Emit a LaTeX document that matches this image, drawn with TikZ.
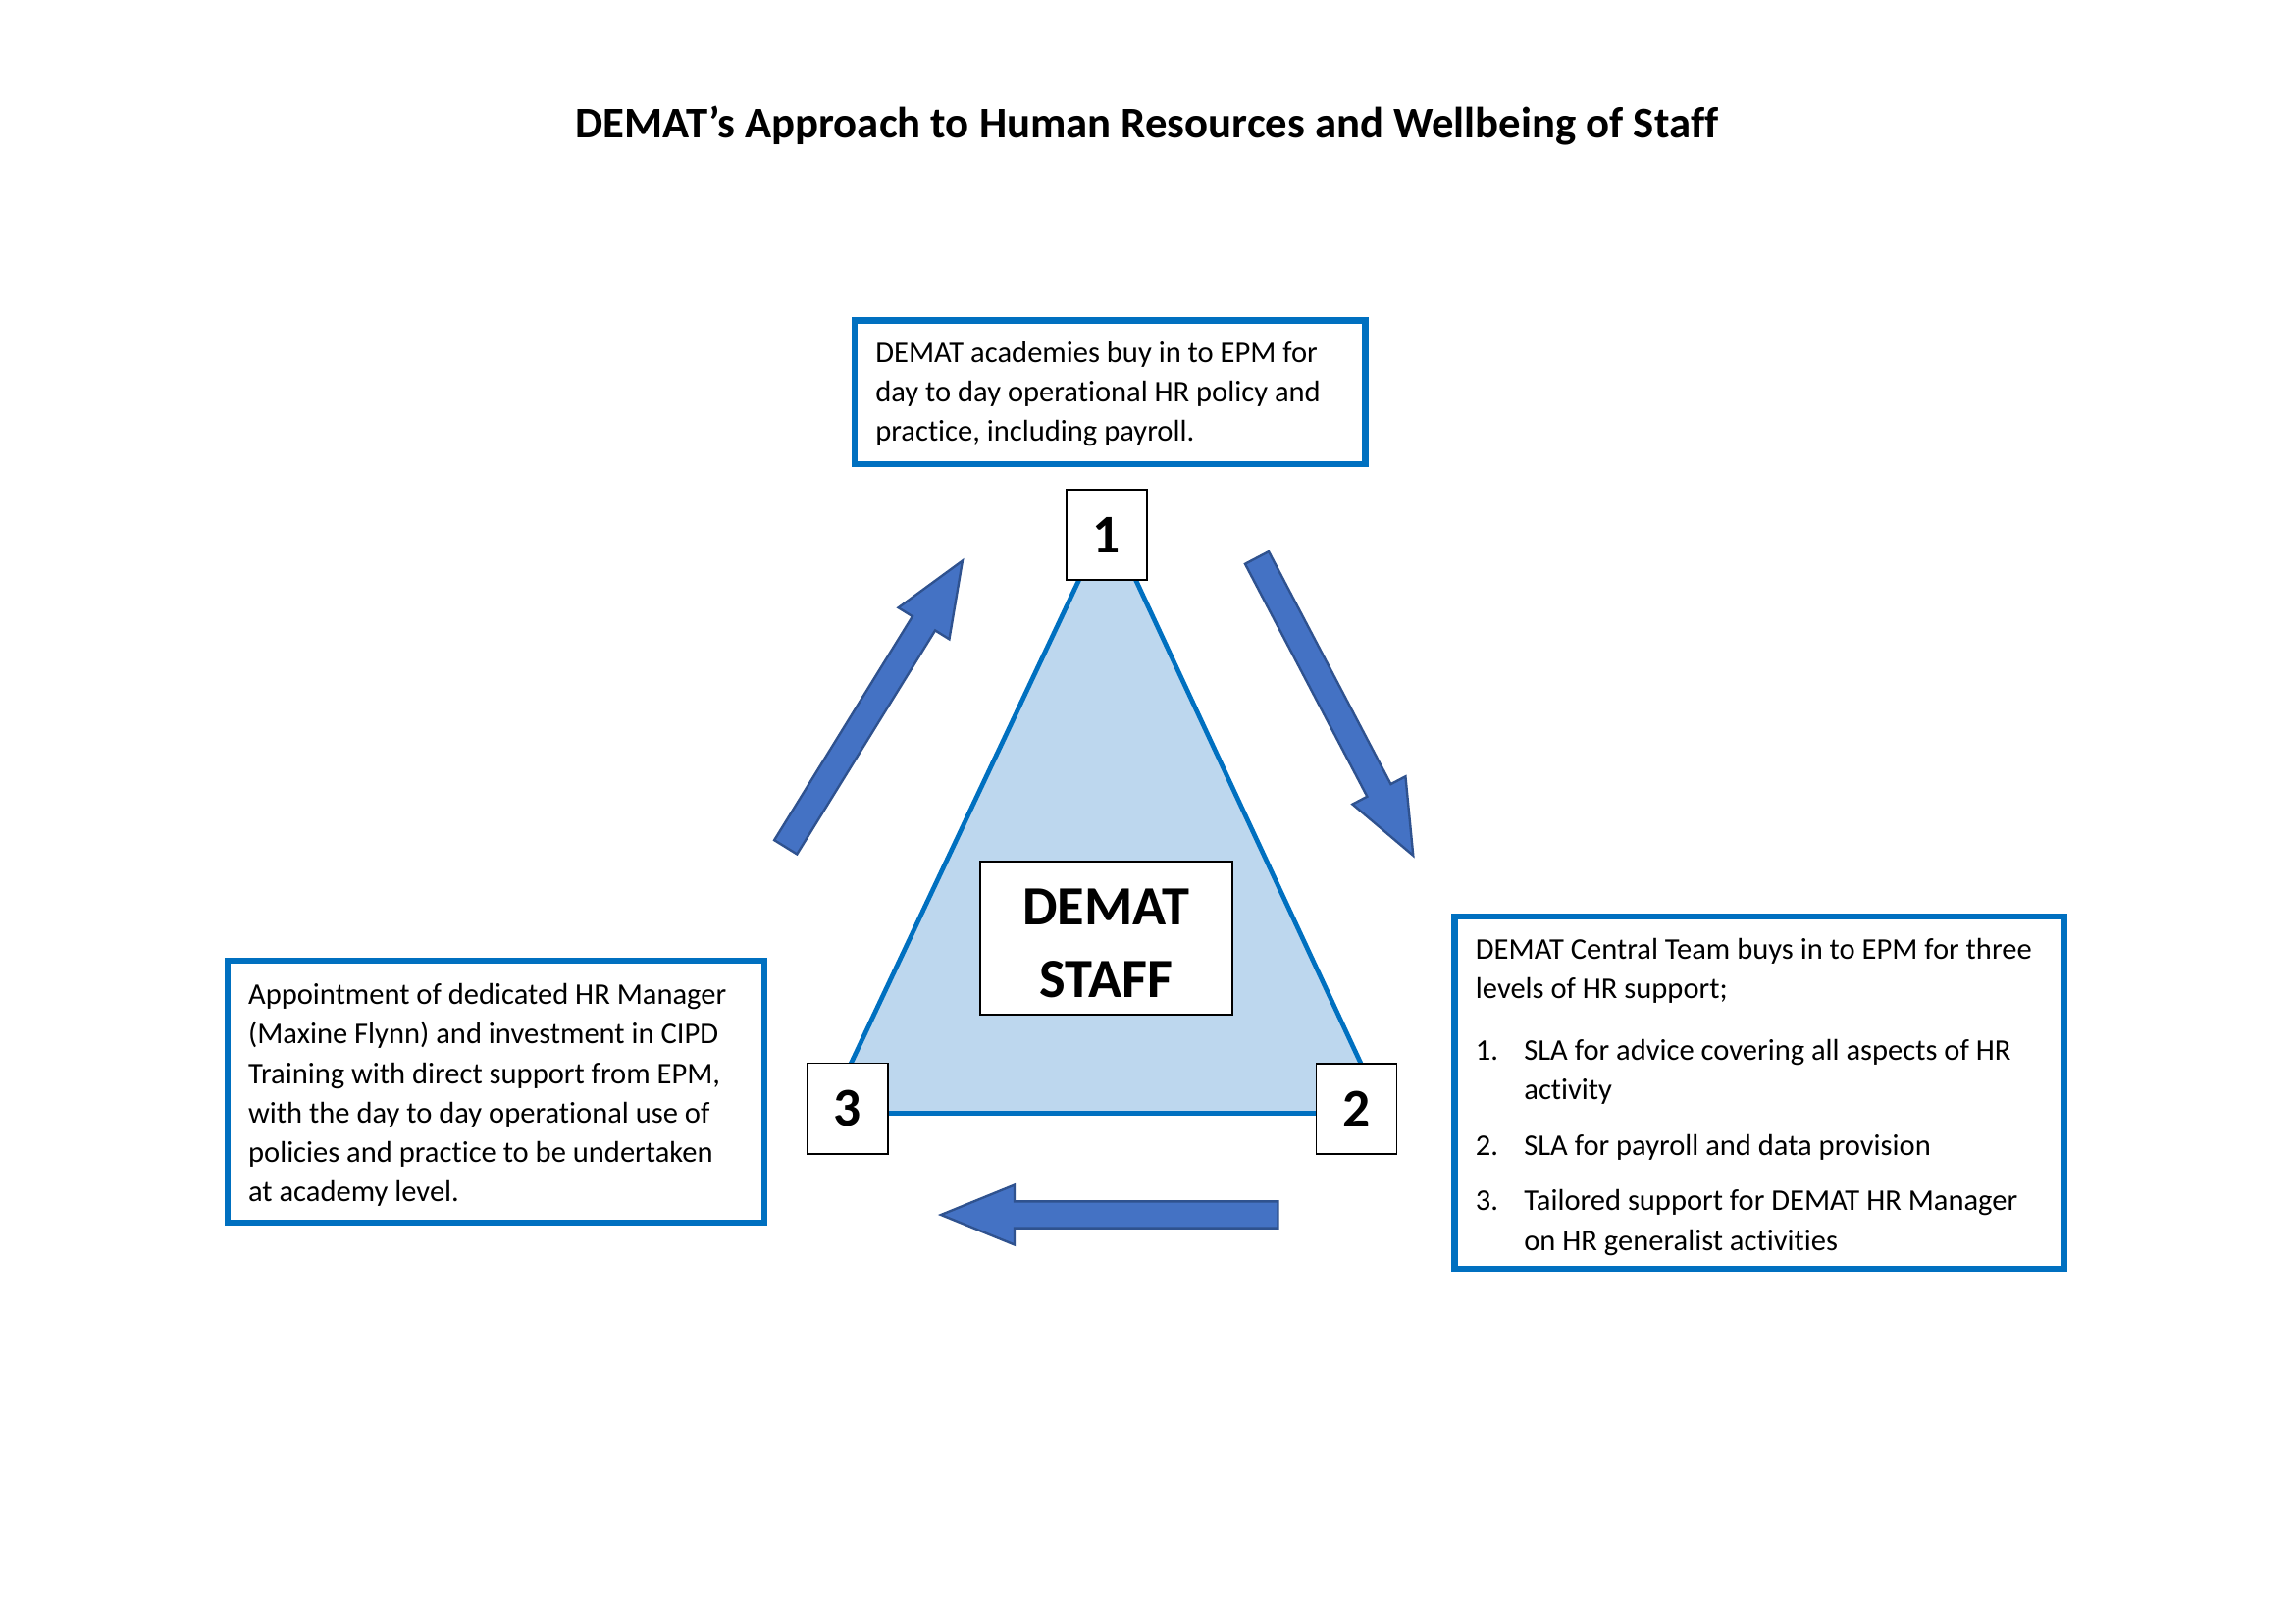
\documentclass[tikz,border=0pt]{standalone}
\usepackage{fontspec}
\setmainfont[Ligatures=NoCommon]{Carlito}
\definecolor{boxblue}{HTML}{0070C0}
\definecolor{trifill}{HTML}{BDD7EE}
\definecolor{arrfill}{HTML}{4472C4}
\definecolor{arrline}{HTML}{2F528F}
\newcommand\blockarr[3]{%
  \begin{scope}[shift={#1},rotate=#2]
    \filldraw[arrowshape] (0,-13.6) -- ({#3-75},-13.6) -- ({#3-75},-30.5) -- (#3,0)
      -- ({#3-75},30.5) -- ({#3-75},13.6) -- (0,13.6) -- cycle;
  \end{scope}}
\begin{document}
\begin{tikzpicture}[x=0.36pt,y=-0.36pt,
  tbox/.style={draw=boxblue, line width=2.25pt, fill=white, inner sep=0pt},
  ttext/.style={anchor=west, inner sep=0pt, align=left,
    font=\fontsize{11}{14.5}\selectfont},
  numbox/.style={draw=black, line width=0.6pt, fill=white, inner sep=0pt,
    minimum width=29.5pt, minimum height=33.2pt,
    font=\bfseries\fontsize{20}{24}\selectfont},
  arrowshape/.style={fill=arrfill, draw=arrline, line width=0.85pt, line join=miter},
  tri/.style={draw=boxblue, fill=trifill, line width=1.7pt, line join=miter}]
\useasboundingbox (0,0) rectangle (2339,1654);

\node[anchor=base, inner sep=0pt, font=\bfseries\fontsize{16.1}{19}\selectfont] (title) at (1169,140)
  {DEMAT’s Approach to Human Resources and Wellbeing of Staff};

% triangle
\coordinate (apex) at (1128.8,529.3);
\coordinate (bl) at (843.3,1134.5);
\coordinate (br) at (1410.6,1134.5);
\filldraw[tri] (apex) -- (br) -- (bl) -- cycle;

% number boxes
\node[numbox] (n1) at (1127.8,545) {1};
\node[numbox] (n3) at (864,1129.7) {3};
\node[numbox] (n2) at (1382.6,1130.2) {2};

% centre box
\node[draw=black, line width=0.6pt, fill=white, minimum width=92.5pt, minimum height=56pt,
  inner sep=0pt] (staff) at (1127.3,956) {};
\node[inner sep=0pt, align=center, font=\bfseries\fontsize{20.3}{26.4}\selectfont] (stafftext)
  at ([yshift=-1.9pt]staff.center) {DEMAT\\STAFF};

% text boxes
\node[tbox, minimum width=187.4pt, minimum height=52.7pt] (b1) at (1131.3,399.7) {};
\node[ttext] (t1) at ([xshift=8.6pt,yshift=-0.6pt]b1.west)
  {DEMAT academies buy in to EPM for\\
   day to day operational HR policy and\\
   practice, including payroll.};

\node[tbox, minimum width=197pt, minimum height=96pt] (b3) at (505.4,1112.5) {};
\node[ttext] (t3) at ([xshift=8.6pt,yshift=-1.3pt]b3.west)
  {Appointment of dedicated HR Manager\\
   (Maxine Flynn) and investment in CIPD\\
   Training with direct support from EPM,\\
   with the day to day operational use of\\
   policies and practice to be undertaken\\
   at academy level.};

\node[tbox, minimum width=223.7pt, minimum height=129.2pt] (b2) at (1793.3,1113.2) {};
\node[ttext] (t2) at ([xshift=8.6pt,yshift=-1.6pt]b2.west)
  {DEMAT Central Team buys in to EPM for three\\
   levels of HR support;\\[8.1pt]
   \makebox[17.8pt][l]{1.}SLA for advice covering all aspects of HR\\
   \hspace*{17.8pt}activity\\[5.9pt]
   \makebox[17.8pt][l]{2.}SLA for payroll and data provision\\[5.9pt]
   \makebox[17.8pt][l]{3.}Tailored support for DEMAT HR Manager\\
   \hspace*{17.8pt}on HR generalist activities};

% block arrows
\coordinate (a1) at (800.7,863.3);
\coordinate (a2) at (1281,568.4);
\coordinate (a3) at (1302.5,1238);
\blockarr{(a1)}{58.3}{343}
\blockarr{(a2)}{-62.3}{342.7}
\blockarr{(a3)}{180}{343.5}
\end{tikzpicture}
\end{document}
